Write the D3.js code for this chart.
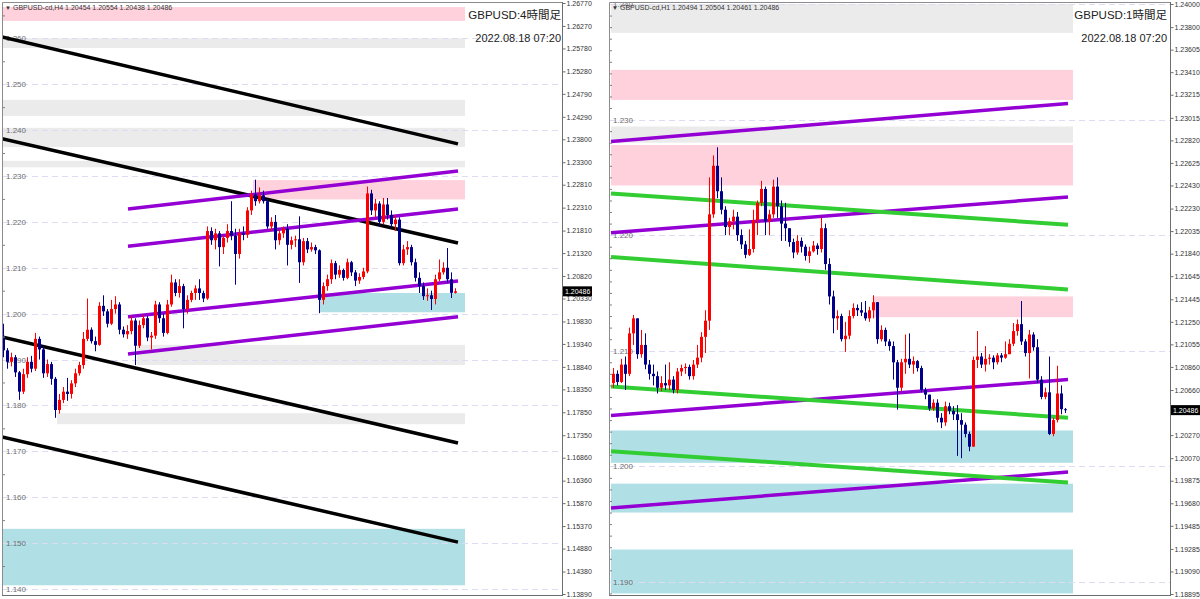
<!DOCTYPE html>
<html><head><meta charset="utf-8">
<script src="https://cdn.jsdelivr.net/npm/d3@7/dist/d3.min.js"></script>
<style>html,body{margin:0;padding:0;background:#fff;}svg{display:block;}</style>
</head><body>
<script>
// ---------------- DATA ----------------
// Left panel: GBPUSD H4
const leftFirstOpen = 1.1950;
const leftClose = [1.1920,1.1895,1.1905,1.1872,1.1830,1.1868,1.1895,1.1880,1.1945,1.1922,
1.1870,1.1890,1.1858,1.1790,1.1812,1.1830,1.1825,1.1848,1.1870,1.1888,
1.1945,1.1965,1.1940,1.1932,1.2017,1.2005,1.1978,1.2010,1.2020,1.1965,
1.1955,1.1962,1.1985,1.1930,1.1975,1.1990,1.1948,1.1952,1.2020,1.1990,
1.1958,1.2020,1.2068,1.2045,1.2060,1.2010,1.2030,1.2045,1.2055,1.2045,
1.2033,1.2180,1.2160,1.2175,1.2145,1.2165,1.2180,1.2170,1.2130,1.2175,
1.2172,1.2225,1.2260,1.2245,1.2258,1.2245,1.2190,1.2200,1.2160,1.2175,
1.2185,1.2150,1.2160,1.2162,1.2112,1.2158,1.2140,1.2145,1.2138,1.2030,
1.2060,1.2075,1.2110,1.2085,1.2095,1.2078,1.2112,1.2090,1.2072,1.2080,
1.2092,1.2262,1.2225,1.2240,1.2200,1.2238,1.2215,1.2195,1.2205,1.2110,
1.2140,1.2145,1.2112,1.2078,1.2060,1.2038,1.2040,1.2032,1.2075,1.2090,
1.2100,1.2075,1.20454,1.20486];
const leftHigh = [1.1978,1.1925,1.1915,1.1910,1.1875,1.1880,1.1905,1.1908,1.1958,1.1950,
1.1930,1.1900,1.1895,1.1862,1.1825,1.1840,1.1860,1.1855,1.1880,1.1895,
1.1960,1.2033,1.1970,1.1950,1.2025,1.2040,1.2010,1.2030,1.2038,1.2025,
1.1972,1.1975,1.1995,1.1990,1.1985,1.1998,1.1995,1.1960,1.2028,1.2025,
1.2000,1.2030,1.2085,1.2075,1.2075,1.2065,1.2040,1.2050,1.2062,1.2075,
1.2050,1.2190,1.2188,1.2185,1.2180,1.2170,1.2195,1.2245,1.2185,1.2185,
1.2190,1.2232,1.2268,1.2292,1.2275,1.2268,1.2250,1.2210,1.2215,1.2182,
1.2190,1.2195,1.2168,1.2170,1.2212,1.2165,1.2165,1.2155,1.2150,1.2140,
1.2068,1.2085,1.2118,1.2115,1.2105,1.2098,1.2120,1.2115,1.2095,1.2088,
1.2100,1.2277,1.2270,1.2250,1.2245,1.2252,1.2252,1.2225,1.2215,1.2210,
1.2150,1.2158,1.2150,1.2120,1.2090,1.2068,1.2055,1.2050,1.2085,1.2118,
1.2112,1.2143,1.2090,1.20554];
const leftLow = [1.1905,1.1880,1.1885,1.1862,1.1812,1.1825,1.1860,1.1872,1.1875,1.1900,
1.1860,1.1862,1.1845,1.1773,1.1782,1.1805,1.1810,1.1815,1.1840,1.1865,
1.1880,1.1940,1.1935,1.1918,1.1930,1.1995,1.1970,1.1975,1.2000,1.1955,
1.1948,1.1945,1.1955,1.1888,1.1925,1.1968,1.1940,1.1922,1.1945,1.1980,
1.1950,1.1955,1.2015,1.2038,1.2035,1.1968,1.2000,1.2025,1.2030,1.2030,
1.2025,1.2030,1.2150,1.2140,1.2103,1.2130,1.2155,1.2160,1.2063,1.2120,
1.2160,1.2165,1.2215,1.2235,1.2240,1.2240,1.2185,1.2180,1.2140,1.2150,
1.2165,1.2105,1.2140,1.2145,1.2067,1.2105,1.2132,1.2135,1.2130,1.2001,
1.2020,1.2050,1.2065,1.2075,1.2078,1.2072,1.2075,1.2082,1.2060,1.2065,
1.2075,1.2088,1.2215,1.2210,1.2190,1.2195,1.2205,1.2188,1.2180,1.2105,
1.2105,1.2128,1.2105,1.2070,1.2045,1.2030,1.2028,1.2008,1.2020,1.2070,
1.2085,1.2068,1.2034,1.20438];
const leftTicks = [1.26770,1.26270,1.25780,1.25280,1.24790,1.24290,1.23800,1.23300,1.22810,1.22310,
1.21810,1.21320,1.20820,1.20330,1.19830,1.19340,1.18840,1.18350,1.17850,1.17350,1.16860,1.16360,
1.15870,1.15370,1.14880,1.14380,1.13890];
const leftGrid = [1.260,1.250,1.240,1.230,1.220,1.210,1.200,1.190,1.180,1.170,1.160,1.150,1.140];
// zones: [fromBar, toBar, priceHigh, priceLow, kind]
const leftZones = [
 [-0.5,115.5,1.2668,1.2638,'supply'],
 [-0.5,115.5,1.2600,1.2579,'range'],
 [-0.5,115.5,1.2466,1.2431,'range'],
 [-0.5,115.5,1.2405,1.2363,'range'],
 [-0.5,115.5,1.2333,1.2319,'range'],
 [62.5,115.5,1.2291,1.2249,'supply'],
 [79,115.5,1.2045,1.2003,'demand'],
 [33.5,115.5,1.1932,1.1888,'range'],
 [13.5,115.5,1.1783,1.1759,'range'],
 [-0.5,115.5,1.1531,1.1408,'demand']];
// trend lines: [bar1, price1, bar2, price2, kind]
const leftLines = [
 [-0.25,1.2603,113.75,1.2370,'major'],
 [-0.25,1.2381,113.75,1.2154,'major'],
 [-0.25,1.1949,113.75,1.1718,'major'],
 [-0.25,1.1731,113.75,1.1502,'major'],
 [31.25,1.2228,113.75,1.2311,'minor'],
 [31.25,1.2147,113.75,1.2228,'minor'],
 [31.25,1.1993,113.75,1.2071,'minor'],
 [31.25,1.1912,113.75,1.1993,'minor']];

// Right panel: GBPUSD H1
const rightFirstOpen = 1.2072;
const rightClose = [1.2080,1.2073,1.2088,1.2080,1.2115,1.2128,1.2097,1.2105,1.2088,1.2080,
1.2078,1.2068,1.2072,1.2070,1.2075,1.2066,1.2082,1.2085,1.2086,1.2078,
1.2088,1.2094,1.2112,1.2126,1.2218,1.2260,1.2238,1.2222,1.2207,1.2212,
1.2216,1.2200,1.2192,1.2183,1.2188,1.2213,1.2228,1.2240,1.2212,1.2218,
1.2242,1.2225,1.2210,1.2206,1.2194,1.2185,1.2195,1.2190,1.2182,1.2186,
1.2191,1.2188,1.2206,1.2175,1.2147,1.2128,1.2130,1.2110,1.2113,1.2130,
1.2137,1.2135,1.2133,1.2128,1.2135,1.2142,1.2110,1.2118,1.2108,1.2104,
1.2090,1.2068,1.2090,1.2093,1.2088,1.2091,1.2085,1.2066,1.2062,1.2050,
1.2055,1.2042,1.2038,1.2052,1.2048,1.2045,1.2040,1.2036,1.2028,1.2017,
1.2092,1.2095,1.2088,1.2093,1.2094,1.2090,1.2096,1.2094,1.2097,1.2106,
1.2117,1.2123,1.2108,1.2098,1.2114,1.2103,1.2075,1.2060,1.2064,1.2028,
1.2040,1.2063,1.20494,1.20486];
const rightHigh = [1.2085,1.2083,1.2093,1.2095,1.2120,1.2131,1.2128,1.2118,1.2115,1.2092,
1.2088,1.2082,1.2078,1.2088,1.2090,1.2078,1.2085,1.2088,1.2089,1.2088,
1.2092,1.2105,1.2116,1.2135,1.2250,1.2269,1.2276,1.2250,1.2225,1.2215,
1.2222,1.2220,1.2205,1.2195,1.2205,1.2222,1.2230,1.2247,1.2242,1.2222,
1.2248,1.2250,1.2230,1.2228,1.2206,1.2197,1.2200,1.2198,1.2192,1.2190,
1.2195,1.2193,1.2215,1.2210,1.2180,1.2152,1.2135,1.2132,1.2125,1.2135,
1.2141,1.2140,1.2142,1.2143,1.2138,1.2148,1.2142,1.2122,1.2120,1.2110,
1.2108,1.2092,1.2093,1.2114,1.2115,1.2095,1.2092,1.2087,1.2068,1.2060,
1.2058,1.2058,1.2046,1.2056,1.2055,1.2052,1.2053,1.2046,1.2038,1.2030,
1.2095,1.2117,1.2098,1.2104,1.2097,1.2096,1.2098,1.2098,1.2108,1.2110,
1.2124,1.2127,1.2143,1.2110,1.2118,1.2116,1.2110,1.2078,1.2068,1.2095,
1.2042,1.2087,1.2070,1.20504];
const rightLow = [1.2068,1.2070,1.2072,1.2066,1.2078,1.2105,1.2093,1.2094,1.2084,1.2075,
1.2070,1.2063,1.2065,1.2066,1.2066,1.2063,1.2063,1.2078,1.2080,1.2075,
1.2075,1.2085,1.2090,1.2098,1.2118,1.2215,1.2232,1.2218,1.2200,1.2200,
1.2205,1.2195,1.2188,1.2180,1.2182,1.2185,1.2200,1.2225,1.2200,1.2200,
1.2215,1.2215,1.2195,1.2195,1.2190,1.2180,1.2183,1.2185,1.2178,1.2176,
1.2185,1.2183,1.2185,1.2170,1.2140,1.2115,1.2118,1.2108,1.2099,1.2110,
1.2128,1.2130,1.2130,1.2126,1.2125,1.2128,1.2106,1.2108,1.2104,1.2100,
1.2075,1.2049,1.2065,1.2080,1.2085,1.2080,1.2082,1.2064,1.2058,1.2048,
1.2048,1.2038,1.2033,1.2035,1.2045,1.2040,1.2009,1.2007,1.2025,1.2013,
1.2017,1.2085,1.2085,1.2082,1.2088,1.2084,1.2088,1.2090,1.2093,1.2098,
1.2104,1.2113,1.2105,1.2095,1.2076,1.2100,1.2072,1.2058,1.2058,1.2027,
1.2026,1.2038,1.2045,1.20461];
const rightTicks = [1.24000,1.23800,1.23605,1.23410,1.23215,1.23015,1.22820,1.22625,1.22430,1.22230,
1.22035,1.21840,1.21645,1.21445,1.21250,1.21055,1.20860,1.20660,1.20270,1.20070,1.19875,1.19680,
1.19485,1.19285,1.19090,1.18895];
const rightGrid = [1.240,1.230,1.220,1.210,1.200,1.190];
const rightZones = [
 [-0.5,115,1.2400,1.2375,'range'],
 [-0.5,115,1.2343,1.2317,'supply'],
 [-0.5,115,1.2294,1.2280,'range'],
 [-0.5,115,1.2278,1.2243,'supply'],
 [65,115,1.2147,1.2129,'supply'],
 [-0.5,115,1.2031,1.2003,'demand'],
 [-0.5,115,1.1985,1.1960,'demand'],
 [-0.5,115,1.1928,1.1890,'demand']];
const rightLines = [
 [-0.5,1.2281,113.75,1.2314,'minor'],
 [-0.5,1.2202,113.75,1.2233,'minor'],
 [-0.5,1.2044,113.75,1.2075,'minor'],
 [-0.5,1.1964,113.75,1.1995,'minor'],
 [-0.5,1.2236,113.75,1.2209,'green'],
 [-0.5,1.2181,113.75,1.2153,'green'],
 [-0.5,1.2069,113.75,1.2042,'green'],
 [-0.5,1.2013,113.75,1.1986,'green']];

// ---------------- STYLES ----------------
const zoneColor = {supply:'#FFD1DC', range:'#EBEBEB', demand:'#B0E0E6'};
const lineStyle = {major:{c:'#000000',w:3.5}, minor:{c:'#9400D3',w:3.5}, green:{c:'#32CD32',w:4}};
const BULL = '#FF0000', BEAR = '#00008B';
const AXFONT = '"Liberation Sans", Arial, sans-serif';

const svg = d3.select('body').append('svg').attr('width',1200).attr('height',599);
svg.append('rect').attr('width',1200).attr('height',599).attr('fill','#fff');

function drawPanel(p){
  const g = svg.append('g');
  const x = d3.scaleLinear().domain([0,113]).range([p.x0, p.x0+452]);
  const y = d3.scaleLinear().domain(p.yDomain).range([594, p.yTop]);
  const clipId = 'clip'+p.id;
  svg.append('clipPath').attr('id',clipId).append('rect')
    .attr('x',p.left).attr('y',2).attr('width',p.right-p.left).attr('height',593);
  const inner = g.append('g').attr('clip-path',`url(#${clipId})`);

  // zones
  inner.selectAll('rect.zone').data(p.zones).join('rect').attr('class','zone')
    .attr('x',d=>x(d[0])).attr('width',d=>x(d[1])-x(d[0]))
    .attr('y',d=>y(d[2])).attr('height',d=>y(d[3])-y(d[2]))
    .attr('fill',d=>zoneColor[d[4]]);

  // grid
  inner.selectAll('line.grid').data(p.grid).join('line').attr('class','grid')
    .attr('x1',p.left).attr('x2',p.right).attr('y1',d=>Math.round(y(d))+0.5).attr('y2',d=>Math.round(y(d))+0.5)
    .attr('stroke','#DCDCF2').attr('stroke-width',1).attr('stroke-dasharray','6,4');
  inner.selectAll('text.glab').data(p.grid).join('text').attr('class','glab')
    .attr('x',p.left+4).attr('y',d=>y(d)+3).text(d=>d3.format('.3f')(d))
    .attr('font-family',AXFONT).attr('font-size',8).attr('fill','#6E6E6E');

  // left-edge minor ticks
  const mt = d3.axisRight(y).tickValues(p.minorTicks).tickSize(3).tickFormat('');
  const mg = g.append('g').attr('transform',`translate(${p.left},0)`).call(mt);
  mg.select('.domain').remove();
  mg.selectAll('line').attr('stroke','#808080');

  // trend lines
  inner.selectAll('line.tl').data(p.lines).join('line').attr('class','tl')
    .attr('x1',d=>x(d[0])).attr('y1',d=>y(d[1])).attr('x2',d=>x(d[2])).attr('y2',d=>y(d[3]))
    .attr('stroke',d=>lineStyle[d[4]].c).attr('stroke-width',d=>lineStyle[d[4]].w);

  // candles
  const bars = p.close.map((c,i)=>({i, o: i===0 ? p.firstOpen : p.close[i-1], c, h:p.high[i], l:p.low[i]}));
  bars[bars.length-1].o = p.lastOpen;
  const cg = inner.append('g');
  cg.selectAll('line.wick').data(bars).join('line').attr('class','wick')
    .attr('x1',d=>Math.round(x(d.i))+0.5).attr('x2',d=>Math.round(x(d.i))+0.5)
    .attr('y1',d=>y(Math.max(d.h,d.o,d.c))).attr('y2',d=>y(Math.min(d.l,d.o,d.c)))
    .attr('stroke',d=>d.c>=d.o?BULL:BEAR).attr('stroke-width',1);
  cg.selectAll('rect.body').data(bars).join('rect').attr('class','body')
    .attr('x',d=>Math.round(x(d.i))-1).attr('width',3)
    .attr('y',d=>y(Math.max(d.o,d.c))).attr('height',d=>Math.max(1,y(Math.min(d.o,d.c))-y(Math.max(d.o,d.c))))
    .attr('fill',d=>d.c>=d.o?BULL:BEAR);

  // frame
  g.append('path').attr('d',`M${p.left+0.5},595.5V2.5H${p.right+0.5}`).attr('fill','none').attr('stroke','#8C8C8C');
  g.append('line').attr('x1',p.left).attr('x2',p.right+1).attr('y1',595.5).attr('y2',595.5).attr('stroke','#6E6E6E');

  // price axis
  const ax = d3.axisRight(y).tickValues(p.ticks).tickSize(3).tickPadding(1).tickFormat(d3.format('.5f'));
  const ag = g.append('g').attr('transform',`translate(${p.right+0.5},0)`).call(ax);
  ag.select('.domain').attr('stroke','#6E6E6E').attr('d',`M0,2V596`);
  ag.selectAll('line').attr('stroke','#6E6E6E');
  ag.selectAll('text').attr('font-family',AXFONT).attr('font-size',7).attr('fill','#333');

  // current price box
  const cy = y(p.current);
  g.append('rect').attr('x',p.right+1).attr('y',cy-5).attr('width',29).attr('height',10).attr('fill','#000');
  g.append('text').attr('x',p.right+3).attr('y',cy+2.5).text(d3.format('.5f')(p.current))
    .attr('font-family',AXFONT).attr('font-size',7).attr('fill','#fff');

  // header
  g.append('text').attr('x',p.left+3).attr('y',10).text('▼').attr('font-size',6)
    .attr('font-family',AXFONT).attr('fill','#333');
  g.append('text').attr('x',p.left+11).attr('y',10).text(p.header)
    .attr('font-family',AXFONT).attr('font-size',7).attr('fill','#333');

  // title + date
  g.append('text').attr('x',p.titleX).attr('y',19).attr('text-anchor','end').text(p.title)
    .attr('font-family','"Liberation Sans","Noto Sans CJK JP",sans-serif').attr('font-size',11.5).attr('fill','#222');
  g.append('text').attr('x',p.titleX).attr('y',42).attr('text-anchor','end').text(p.date)
    .attr('font-family','"Liberation Sans",sans-serif').attr('font-size',11).attr('fill','#222');
}

const leftMinor = d3.range(1.145, 1.2651, 0.01);
const rightMinor = d3.range(1.189, 1.2401, 0.001).filter(v=>Math.abs(v*100-Math.round(v*100))>0.01);

drawPanel({id:'L', left:2, right:562, x0:3, yDomain:[1.13890,1.26770], yTop:3,
  firstOpen:leftFirstOpen, lastOpen:1.20454, close:leftClose, high:leftHigh, low:leftLow,
  zones:leftZones, lines:leftLines, grid:leftGrid, ticks:leftTicks, minorTicks:leftMinor,
  current:1.20486, header:'GBPUSD-cd,H4  1.20454 1.20554 1.20438 1.20486',
  title:'GBPUSD:4時間足', date:'2022.08.18 07:20', titleX:561});
drawPanel({id:'R', left:609, right:1170, x0:613, yDomain:[1.18895,1.24000], yTop:4,
  firstOpen:rightFirstOpen, lastOpen:1.20494, close:rightClose, high:rightHigh, low:rightLow,
  zones:rightZones, lines:rightLines, grid:rightGrid, ticks:rightTicks, minorTicks:rightMinor,
  current:1.20486, header:'GBPUSD-cd,H1  1.20494 1.20504 1.20461 1.20486',
  title:'GBPUSD:1時間足', date:'2022.08.18 07:20', titleX:1167});
</script>
</body></html>
